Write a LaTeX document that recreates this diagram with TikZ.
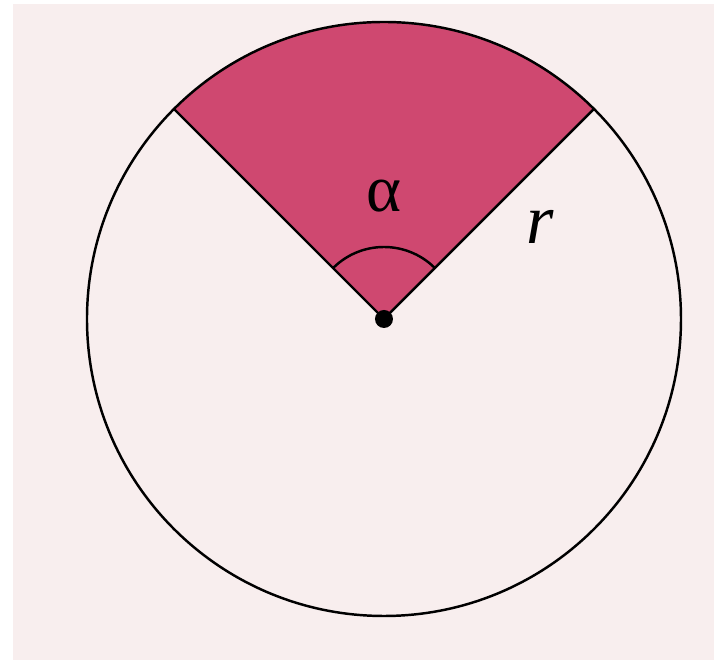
\documentclass[tikz,border=0pt]{standalone}
\usepackage{fontspec}
\setmainfont{Liberation Serif}
\usepackage{tikz}
\usetikzlibrary{calc}
\definecolor{paper}{HTML}{F8EEEE}
\definecolor{sector}{HTML}{CF4870}

\begin{document}
\begin{tikzpicture}[line width=1.4pt]
% page and background
\useasboundingbox (-7.68,-6.82) rectangle (6.6,6.38);
\fill[white] (-7.68,-6.9) rectangle (6.7,6.38);
\fill[paper] (-7.42,-6.9) rectangle (6.7,6.30);
% centre and sector ends
\coordinate (O) at (0,0);
\coordinate (A) at (135:5.94);
\coordinate (B) at (45:5.94);
% sector and circle
\fill[sector] (O) -- (B) arc (45:135:5.94) -- cycle;
\draw (O) circle (5.94);
\draw (A) -- (O) -- (B);
\draw (45:1.44) arc (45:135:1.44);
\fill (O) circle (.18);
% labels
\node[font=\fontsize{38}{38}\selectfont] (alpha) at (0,2.45){α};
\node[font=\fontsize{40}{40}\selectfont\itshape] (r) at (3.12,1.85){r};
\end{tikzpicture}
\end{document}
